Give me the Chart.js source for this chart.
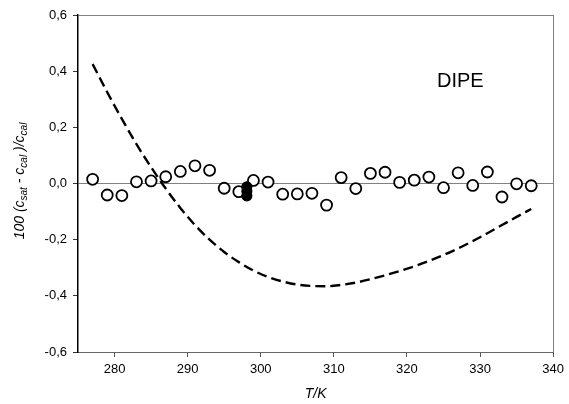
<!DOCTYPE html>
<html>
<head>
<meta charset="utf-8">
<script src="https://cdn.jsdelivr.net/npm/chart.js@4.4.1/dist/chart.umd.min.js"></script>
<style>
  html, body { margin: 0; padding: 0; background: #fff; }
  #wrap { width: 569px; height: 404px; position: relative; }
</style>
</head>
<body>
<div id="wrap"><canvas id="chart"></canvas></div>
<script>
(() => {
  "use strict";

  // Data
  const tempsOpen = [277, 279, 281, 283, 285, 287, 289, 291, 293, 295, 297, 299, 301, 303, 305, 307,
                     309, 311, 313, 315, 317, 319, 321, 323, 325, 327, 329, 331, 333, 335, 337];
  const devOpen   = [0.015, -0.041, -0.043, 0.006, 0.009, 0.024, 0.043, 0.063, 0.047, -0.017, -0.029, 0.011, 0.005, -0.038, -0.037, -0.035,
                     -0.077, 0.021, -0.018, 0.036, 0.040, 0.004, 0.012, 0.023, -0.015, 0.038, -0.007, 0.041, -0.048, -0.001, -0.008];

  const tempsFilled = [298.1, 298.1, 298.1];
  const devFilled   = [-0.012, -0.028, -0.044];

  const tempsCurve = [277, 279, 281, 283, 285, 287, 289, 291, 293, 295, 297, 299, 301, 303, 305, 307,
                      309, 311, 313, 315, 317, 319, 321, 323, 325, 327, 329, 331, 333, 335, 337];
  const devCurve   = [0.425, 0.325, 0.230, 0.140, 0.058, -0.018, -0.087, -0.148, -0.200, -0.244, -0.280, -0.310, -0.333, -0.349, -0.360, -0.365,
                      -0.366, -0.361, -0.353, -0.341, -0.327, -0.312, -0.295, -0.276, -0.255, -0.231, -0.205, -0.177, -0.148, -0.119, -0.091];

  const xTicks = [280, 290, 300, 310, 320, 330, 340];
  const yTicks = [-0.6, -0.4, -0.2, 0.0, 0.2, 0.4, 0.6];
  const label  = "DIPE";

  const pts = (xs, ys) => xs.map((x, i) => ({ x, y: ys[i] }));
  const fmt = (v) => v.toFixed(1).replace(".", ",");
  const FONT = "'Liberation Sans', Arial, sans-serif";

  // Y title with subscripts + DIPE label
  const annotations = {
    id: "annotations",
    afterDraw(chart) {
      const { ctx } = chart;
      ctx.save();
      // DIPE
      ctx.fillStyle = "#000";
      ctx.font = `20px ${FONT}`;
      ctx.textBaseline = "middle";
      ctx.textAlign = "left";
      ctx.fillText(label, 437, 81);

      // rotated y title
      const parts = [
        ["100 (c", false], ["sat", true], [" - c", false], ["cal", true], [" )/c", false], ["cal", true]
      ];
      const big = `italic 14px ${FONT}`;
      const small = `italic 10px ${FONT}`;
      let total = 0;
      parts.forEach(([t, sub]) => { ctx.font = sub ? small : big; total += ctx.measureText(t).width; });
      ctx.translate(24, 181);
      ctx.rotate(-Math.PI / 2);
      ctx.textBaseline = "alphabetic";
      let x = -total / 2;
      parts.forEach(([t, sub]) => {
        ctx.font = sub ? small : big;
        ctx.fillText(t, x, sub ? 3 : 0);
        x += ctx.measureText(t).width;
      });
      ctx.restore();
    }
  };

  const ctx = document.getElementById("chart").getContext("2d");

  new Chart(ctx, {
    type: "scatter",
    data: {
      datasets: [
        {
          type: "line",
          data: pts(tempsCurve, devCurve),
          borderColor: "#000",
          borderWidth: 2.4,
          borderDash: [10, 5],
          pointRadius: 0,
          cubicInterpolationMode: "monotone",
          fill: false,
          order: 3
        },
        {
          data: pts(tempsOpen, devOpen),
          pointRadius: 5.5,
          pointBorderWidth: 1.8,
          pointBorderColor: "#000",
          pointBackgroundColor: "#fff",
          order: 2
        },
        {
          data: pts(tempsFilled, devFilled),
          pointRadius: 5,
          pointBorderWidth: 1.2,
          pointBorderColor: "#000",
          pointBackgroundColor: "#000",
          order: 1
        }
      ]
    },
    options: {
      responsive: true,
      maintainAspectRatio: false,
      animation: false,
      layout: { padding: { top: 15, right: 10, left: 0, bottom: 0 } },
      plugins: { legend: { display: false }, tooltip: { enabled: false } },
      scales: {
        x: {
          type: "linear",
          min: 275,
          max: 340,
          afterBuildTicks: (s) => { s.ticks = xTicks.map((v) => ({ value: v })); },
          afterFit: (s) => { s.height = 52; },
          ticks: { color: "#000", font: { family: FONT, size: 13 }, padding: 5, maxRotation: 0 },
          grid: {
            drawOnChartArea: true,
            color: (c) => (c.tick && c.tick.value === 340 ? "#808080" : "rgba(0,0,0,0)"),
            tickColor: "#555",
            tickLength: 5
          },
          border: { color: "#666", width: 1 },
          title: {
            display: true,
            text: "T/K",
            color: "#000",
            font: { family: FONT, size: 14, style: "italic" },
            padding: { top: 4, bottom: 1 }
          }
        },
        y: {
          min: -0.6,
          max: 0.6,
          afterBuildTicks: (s) => { s.ticks = yTicks.map((v) => ({ value: v })); },
          afterFit: (s) => { s.width = 78; },
          ticks: { color: "#000", font: { family: FONT, size: 13 }, padding: 6, callback: (v) => fmt(v) },
          grid: {
            drawOnChartArea: true,
            color: (c) => (c.tick && (Math.abs(c.tick.value) < 1e-9 || Math.abs(c.tick.value - 0.6) < 1e-9) ? "#808080" : "rgba(0,0,0,0)"),
            tickColor: "#333",
            tickLength: 5
          },
          border: { color: "#000", width: 1.5 }
        }
      }
    },
    plugins: [annotations]
  });
})();
</script>
</body>
</html>
